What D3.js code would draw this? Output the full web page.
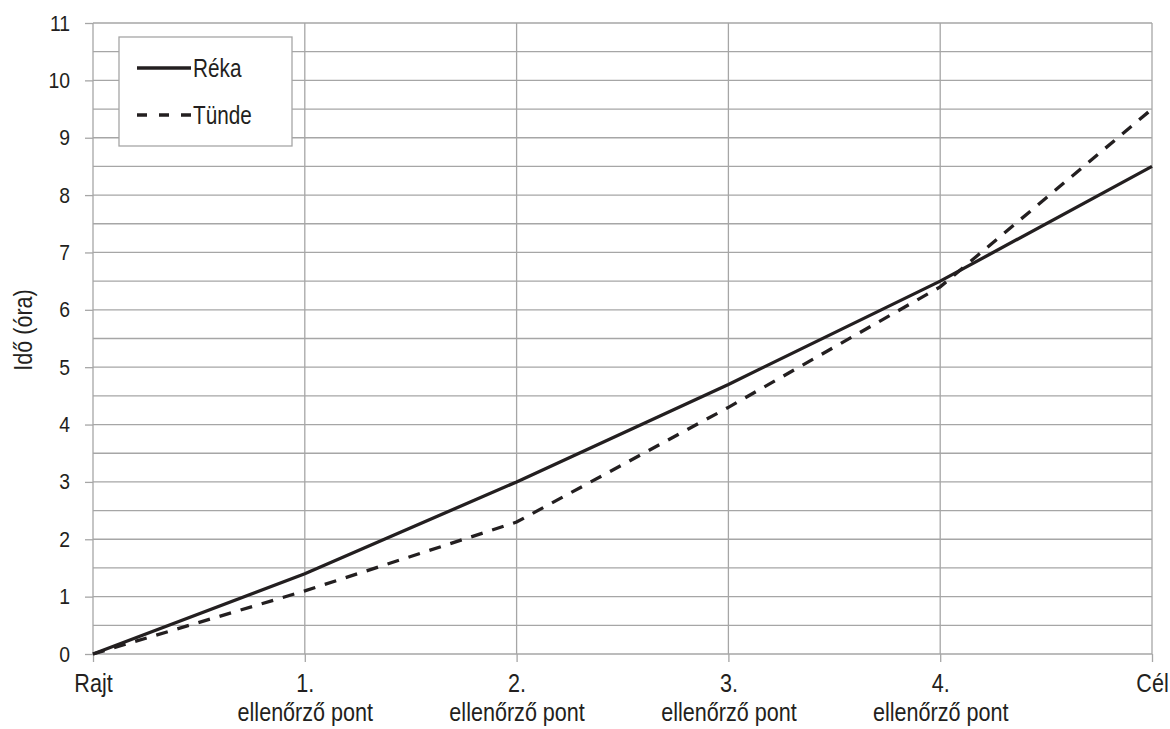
<!DOCTYPE html>
<html>
<head>
<meta charset="utf-8">
<title>Idő (óra)</title>
<style type="text/css">
    body{
        margin: 0;
        background-color: #fff;
    }
    svg{
        font-family: "Liberation Sans Narrow", "Arial Narrow", "Liberation Sans", sans-serif;
    }
    .grid line{
        stroke: #a6a6a6;
        stroke-width: 1.3px;
    }
    .axis path{
        display: none;
    }
    .axis line{
        stroke: #a6a6a6;
        stroke-width: 1.3px;
    }
    .axis text{
        fill: #231f20;
    }
    .series{
        fill: none;
        stroke: #231f20;
        stroke-width: 3.3px;
    }
</style>
<script src="https://cdn.jsdelivr.net/npm/d3@7/dist/d3.min.js"></script>
</head>
<body>
<div id="chart"></div>
<script type="text/javascript">
    var categories = ['Rajt', '1.|ellenőrző pont', '2.|ellenőrző pont', '3.|ellenőrző pont', '4.|ellenőrző pont', 'Cél'];
    var reka = [0, 1.4, 3.0, 4.7, 6.5, 8.5];
    var tunde = [0, 1.1, 2.3, 4.3, 6.4, 9.5];
    var seriesNames = ['Réka', 'Tünde'];
    var yTicks = [0, 1, 2, 3, 4, 5, 6, 7, 8, 9, 10, 11];
    var yGrid = d3.range(0, 11.01, 0.5);
    var yTitle = 'Idő (óra)';

    var width = 1170, height = 729;
    var mLeft = 93, mRight = 1152, mTop = 23, mBottom = 654;
    var narrow = 'scale(0.83,1)';

    var svg = d3.select('#chart')
        .append('svg')
        .attr('width', width)
        .attr('height', height);

    var xScale = d3.scalePoint()
        .domain(categories)
        .range([mLeft, mRight]);

    var yScale = d3.scaleLinear()
        .domain([0, 11])
        .range([mBottom, mTop]);

    // horizontal grid every half hour
    svg.append('g')
        .attr('class', 'grid')
        .selectAll('line')
        .data(yGrid)
        .enter()
        .append('line')
        .attr('x1', mLeft)
        .attr('x2', mRight)
        .attr('y1', function(d){ return yScale(d); })
        .attr('y2', function(d){ return yScale(d); });

    // vertical grid
    svg.append('g')
        .attr('class', 'grid')
        .selectAll('line')
        .data(categories)
        .enter()
        .append('line')
        .attr('x1', function(d){ return xScale(d); })
        .attr('x2', function(d){ return xScale(d); })
        .attr('y1', mTop)
        .attr('y2', mBottom);

    var yAxis = d3.axisLeft(yScale).tickValues(yTicks).tickSize(8).tickPadding(0);
    var yAxisG = svg.append('g')
        .attr('class', 'axis')
        .attr('transform', 'translate(' + mLeft + ',0)')
        .call(yAxis);
    yAxisG.selectAll('.tick text')
        .attr('x', null)
        .style('font-size', '22px')
        .attr('transform', 'translate(-23,0) scale(0.88,1)');

    var xAxis = d3.axisBottom(xScale).tickSize(8).tickFormat(function(){ return ''; });
    var xAxisG = svg.append('g')
        .attr('class', 'axis')
        .attr('transform', 'translate(0,' + mBottom + ')')
        .call(xAxis);

    xAxisG.selectAll('.tick text').remove();
    xAxisG.selectAll('.tick')
        .append('text')
        .attr('text-anchor', 'middle')
        .attr('transform', narrow)
        .style('font-size', '26px')
        .selectAll('tspan')
        .data(function(d){ return d.split('|'); })
        .enter()
        .append('tspan')
        .attr('x', 0)
        .attr('y', function(d, i){ return 38 + i * 29; })
        .text(function(d){ return d; });

    svg.append('text')
        .attr('transform', 'translate(32,' + 330 + ') rotate(-90) ' + narrow)
        .attr('text-anchor', 'middle')
        .style('font-size', '26px')
        .style('fill', '#231f20')
        .text(yTitle);

    var line = d3.line()
        .x(function(d, i){ return xScale(categories[i]); })
        .y(function(d){ return yScale(d); });

    svg.append('path')
        .datum(reka)
        .attr('class', 'series')
        .attr('d', line);

    svg.append('path')
        .datum(tunde)
        .attr('class', 'series')
        .attr('stroke-dasharray', '12,10')
        .attr('d', line);

    // legend
    var legend = svg.append('g');
    legend.append('rect')
        .attr('x', 119)
        .attr('y', 37)
        .attr('width', 173)
        .attr('height', 109)
        .attr('fill', '#fff')
        .attr('stroke', '#a6a6a6')
        .attr('stroke-width', 1.3);

    var items = legend.selectAll('.item')
        .data(seriesNames)
        .enter()
        .append('g')
        .attr('transform', function(d, i){ return 'translate(137,' + (68 + i * 47) + ')'; });

    items.append('line')
        .attr('x1', 0)
        .attr('x2', 54)
        .attr('y1', 0)
        .attr('y2', 0)
        .attr('stroke', '#231f20')
        .attr('stroke-width', 3.3)
        .attr('stroke-dasharray', function(d, i){ return i === 1 ? '10,12' : null; });

    items.append('text')
        .attr('x', 0)
        .attr('y', 0)
        .attr('dy', '0.35em')
        .attr('transform', 'translate(56,0) ' + narrow)
        .style('font-size', '25px')
        .style('fill', '#231f20')
        .text(function(d){ return d; });
</script>
</body>
</html>
